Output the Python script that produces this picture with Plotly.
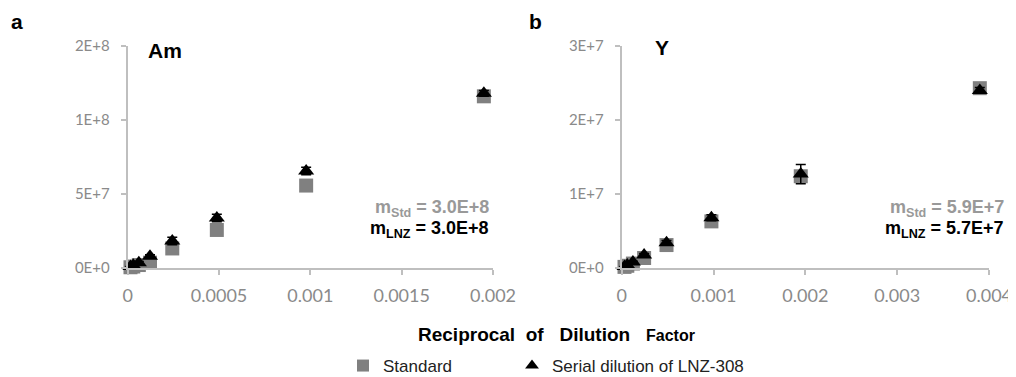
import plotly.graph_objects as go

# ---- data ----
x_am = [0.0000153, 0.0000305, 0.000061, 0.000122, 0.000244, 0.000488, 0.000977, 0.00195]
am_std = [0.5e6, 1.0e6, 2.0e6, 3.6e6, 1.32e7, 2.57e7, 5.57e7, 1.16e8]
am_lnz = [1.0e6, 1.8e6, 3.6e6, 8.0e6, 1.82e7, 3.38e7, 6.55e7, 1.18e8]
am_lnz_err = [3e5, 5e5, 8e5, 1.0e6, 2.5e6, 2.5e6, 2.5e6, 2.0e6]

x_y = [0.0000305, 0.000061, 0.000122, 0.000244, 0.000488, 0.000977, 0.00195, 0.0039]
y_std = [1.5e5, 3e5, 6e5, 1.35e6, 3.1e6, 6.3e6, 1.24e7, 2.43e7]
y_lnz = [2e5, 4e5, 8e5, 1.76e6, 3.4e6, 6.8e6, 1.27e7, 2.40e7]
y_lnz_err = [5e4, 1e5, 1e5, 2e5, 3e5, 4e5, 1.3e6, 4e5]

am_yticks = [0, 5e7, 1e8, 1.5e8]
am_yticktext = ["0E+0", "5E+7", "1E+8", "2E+8"]
am_xticks = [0, 0.0005, 0.001, 0.0015, 0.002]
am_xticktext = ["0", "0.0005", "0.001", "0.0015", "0.002"]

y_yticks = [0, 1e7, 2e7, 3e7]
y_yticktext = ["0E+0", "1E+7", "2E+7", "3E+7"]
y_xticks = [0, 0.001, 0.002, 0.003, 0.004]
y_xticktext = ["0", "0.001", "0.002", "0.003", "0.004"]

series_names = ["Standard", "Serial dilution of LNZ-308"]
slope_am = ["3.0E+8", "3.0E+8"]
slope_y = ["5.9E+7", "5.7E+7"]

GRAY = "#808080"
TICK = "#8a8a8a"
AXIS = "#bfbfbf"

fig = go.Figure()

def add_panel(xs, std, lnz, err, xa, ya, show):
    fig.add_trace(go.Scatter(
        x=xs, y=std, mode="markers", name=series_names[0], xaxis=xa, yaxis=ya,
        marker=dict(symbol="square", size=14, color=GRAY), cliponaxis=False,
        showlegend=show, legend="legend"))
    fig.add_trace(go.Scatter(
        x=xs, y=lnz, mode="markers", name=series_names[1], xaxis=xa, yaxis=ya,
        marker=dict(symbol="triangle-up", size=14, color="black"), cliponaxis=False,
        error_y=dict(type="data", array=err, color="black", thickness=1.5, width=5),
        showlegend=show, legend="legend2"))

add_panel(x_am, am_std, am_lnz, am_lnz_err, "x", "y", True)
add_panel(x_y, y_std, y_lnz, y_lnz_err, "x2", "y2", False)

# page has an 8px body margin: figure pixel = page pixel - 8
OFF = 8
W, H = 1016 - OFF, 377 - OFF
def px(v):
    return (v - OFF) / W
def py(v):
    return (H - (v - OFF)) / H

ax_common = dict(showgrid=False, zeroline=False, showline=True, linecolor=AXIS, linewidth=2,
                 ticks="outside", ticklen=5, tickcolor=AXIS, tickwidth=1.5, automargin=False)

legend_common = dict(orientation="h", xref="container", yref="container",
                     xanchor="left", yanchor="middle",
                     font=dict(family="Liberation Sans", size=17, color="#222"),
                     itemsizing="constant", bgcolor="rgba(0,0,0,0)")

fig.update_layout(
    width=W, height=H, margin=dict(l=0, r=0, t=0, b=0, pad=0, autoexpand=False),
    paper_bgcolor="white", plot_bgcolor="white",
    xaxis=dict(domain=[px(127.7), px(493)], range=[0, 0.002], anchor="y",
               tickvals=am_xticks, ticktext=am_xticktext, ticklabelstandoff=5,
               tickfont=dict(family="Lato", size=18, color=TICK), **ax_common),
    yaxis=dict(domain=[py(268), py(46)], range=[0, 1.5e8], anchor="x",
               tickvals=am_yticks, ticktext=am_yticktext, ticklabelstandoff=8,
               tickfont=dict(family="Lato", size=15, color=TICK), **ax_common),
    xaxis2=dict(domain=[px(621.7), px(989)], range=[0, 0.004], anchor="y2",
                tickvals=y_xticks, ticktext=y_xticktext, ticklabelstandoff=5,
                tickfont=dict(family="Lato", size=18, color=TICK), **ax_common),
    yaxis2=dict(domain=[py(268), py(46)], range=[0, 3e7], anchor="x2",
                tickvals=y_yticks, ticktext=y_yticktext, ticklabelstandoff=8,
                tickfont=dict(family="Lato", size=15, color=TICK), **ax_common),
    legend=dict(x=px(343), y=py(366), **legend_common),
    legend2=dict(x=px(512), y=py(366), **legend_common),
)

ann = []
def text(x, y, s, size, color="black", xanchor="center"):
    ann.append(dict(x=px(x), y=py(y), xref="paper", yref="paper", text=s, showarrow=False,
                    xanchor=xanchor, yanchor="middle",
                    font=dict(family="Liberation Sans", size=size, color=color)))

text(17, 22, "<b>a</b>", 21)
text(535, 22, "<b>b</b>", 21)
text(165, 51, "<b>Am</b>", 21)
text(662, 47, "<b>Y</b>", 21)
text(491, 208, "<b>m<sub>Std</sub> = " + slope_am[0] + "</b>", 18, color="#999999", xanchor="right")
text(491, 230, "<b>m<sub>LNZ</sub> = " + slope_am[1] + "</b>", 18, xanchor="right")
text(1006, 208, "<b>m<sub>Std</sub> = " + slope_y[0] + "</b>", 18, color="#999999", xanchor="right")
text(1006, 230, "<b>m<sub>LNZ</sub> = " + slope_y[1] + "</b>", 18, xanchor="right")
text(556, 334, "<b>Reciprocal  of   Dilution   <span style='font-size:16px'>Factor</span></b>", 19)
fig.update_layout(annotations=ann)

fig.write_html("out.html")
